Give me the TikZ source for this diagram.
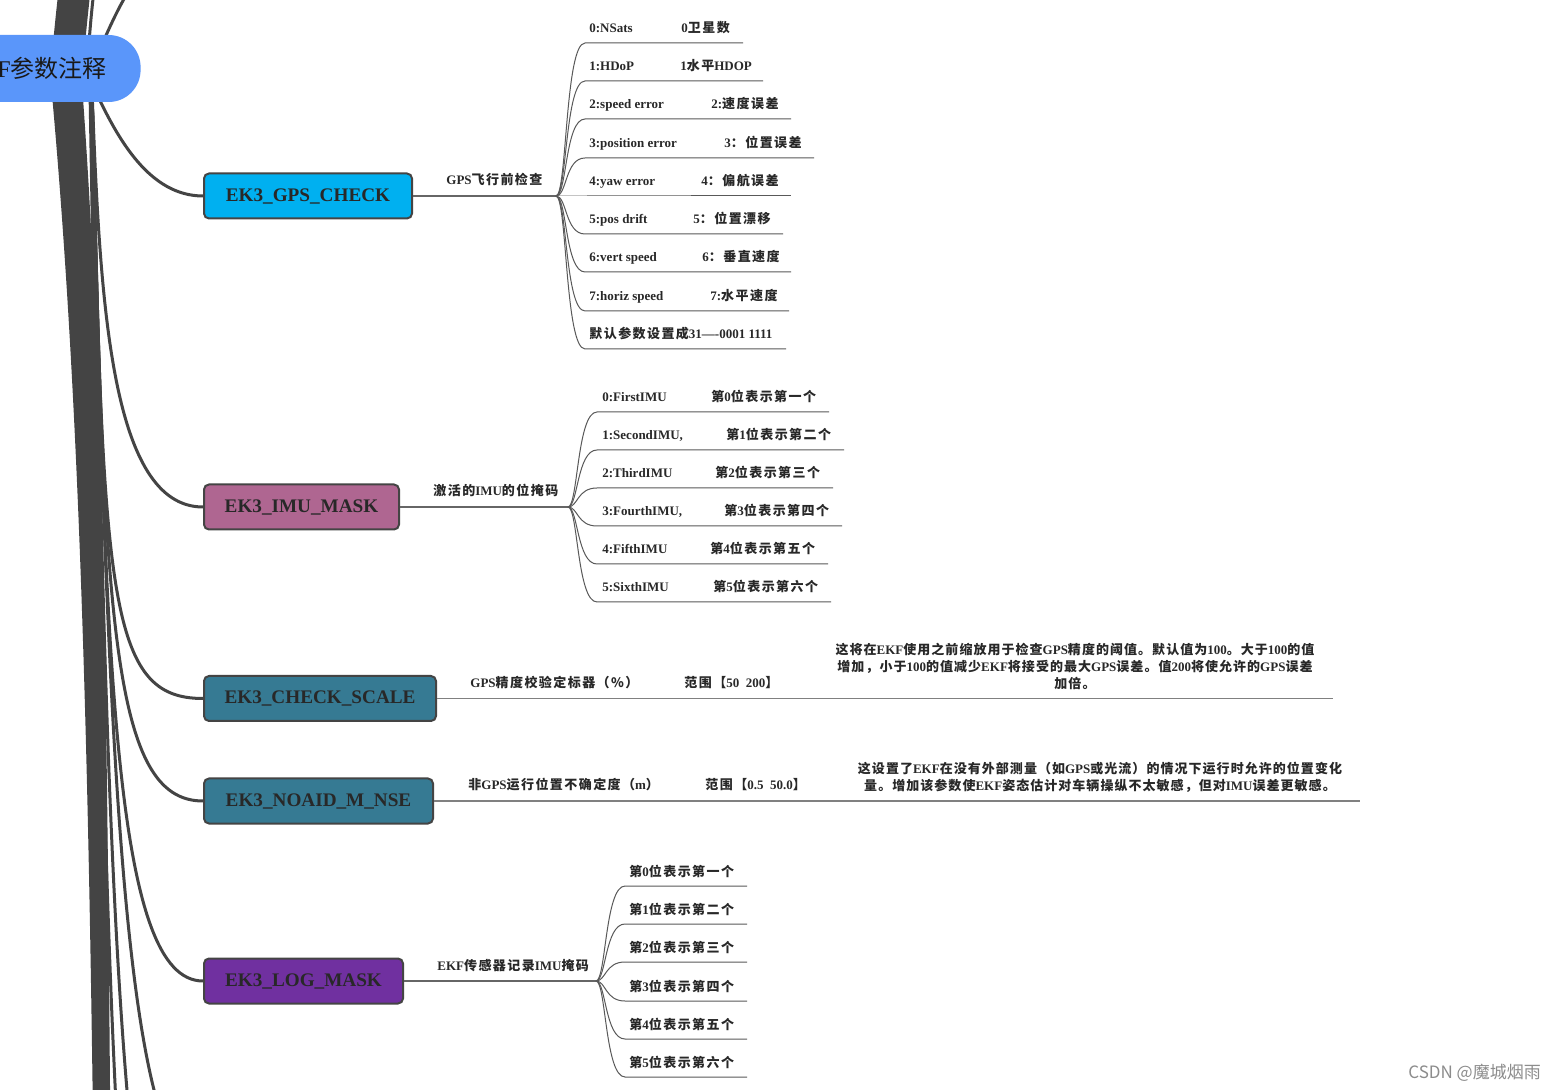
\documentclass[tikz,border=0pt]{standalone}
\usepackage{fontspec}
\setmainfont{Liberation Serif}
\newfontfamily\zhfont{Noto Sans CJK SC}[LetterSpace=11]
\newfontfamily\zdfont{Noto Sans CJK SC}[LetterSpace=8]
\newfontfamily\rootzh{Noto Sans CJK SC}
\newfontfamily\wmfont{Noto Sans CJK SC}
\newcommand\zh[1]{{\zhfont #1}}
\newcommand\zd[1]{{\zdfont #1}}
\usetikzlibrary{backgrounds}
\definecolor{rootc}{RGB}{90,150,250}
\definecolor{gpsc}{RGB}{0,176,240}
\definecolor{imuc}{RGB}{175,102,145}
\definecolor{scalec}{RGB}{54,122,147}
\definecolor{logc}{RGB}{112,48,160}
\definecolor{linec}{RGB}{68,68,68}
\definecolor{txtc}{RGB}{40,40,40}
\tikzset{
 mainbox/.style={draw=linec, line width=1pt, rounded corners=2.5pt, anchor=west, minimum height=22.5pt, inner sep=0pt, text=txtc, font=\bfseries\fontsize{9.6}{11}\selectfont},
 lbl/.style={anchor=base west, inner sep=0pt, text=txtc, font=\bfseries\fontsize{6.5}{8}\selectfont},
 desc/.style={align=center, inner sep=0pt, text=txtc, font=\bfseries\fontsize{6.5}{8.5}\selectfont},
 conn/.style={draw=linec, line width=1.5pt},
 bandl/.style={draw=linec, line width=2.4pt},
 lvtwo/.style={draw=black!60, line width=0.7pt},
 fanl/.style={draw=black!65, line width=0.5pt},
}
\begin{document}
\begin{tikzpicture}[x=0.5pt,y=-0.5pt]
\useasboundingbox (0,0) rectangle (1559,1090);
% root
\node[fill=rootc, rounded corners=16pt, minimum height=33.5pt, inner xsep=17pt, inner ysep=0pt, anchor=east, font=\fontsize{12}{14}\selectfont, text=black!90] (root) at (141,68.5) {EKF\rootzh 参数注释};
% main nodes
\node[mainbox, fill=gpsc, minimum width=104pt] (gps) at (203,196) {EK3\_GPS\_CHECK};
\node[mainbox, fill=imuc, minimum width=97.5pt] (imu) at (203,507) {EK3\_IMU\_MASK};
\node[mainbox, fill=scalec, minimum width=116pt] (scale) at (203,698.5) {EK3\_CHECK\_SCALE};
\node[mainbox, fill=scalec, minimum width=114.5pt] (noaid) at (203,801) {EK3\_NOAID\_M\_NSE};
\node[mainbox, fill=logc, minimum width=99.5pt] (logm) at (203,981) {EK3\_LOG\_MASK};

\begin{scope}[on background layer]
\fill[white] (0,0) rectangle (1559,1090);
% top bundle (to nodes above)
\foreach \i in {0,...,8}{
  \pgfmathsetmacro{\sx}{54+3.4*\i}
  \coordinate (tp\i) at (\sx+25,-150);
  \draw[bandl] (\sx,60) .. controls (\sx+5,0) and (\sx+15,-80) .. (tp\i);
}
\coordinate (tq1) at (100,-60);
\draw[conn] (88,60) .. controls (90,20) and (95,-20) .. (tq1);
\coordinate (tq2) at (203,-60);
\draw[conn] (95,60) .. controls (118,10) and (140,-55) .. (tq2);
% bottom bundle (to nodes below)
\foreach \i in {0,...,7}{
  \pgfmathsetmacro{\f}{\i/7}
  \coordinate (bp\i) at (97+12*\f,1250);
  \draw[bandl] (54+26*\f,90) .. controls (84+20*\f,420) and (92+13*\f,800) .. (bp\i);
}
\coordinate (bn1) at (203,1170);
\coordinate (bn2) at (203,1380);
\coordinate (bn3) at (203,1600);
\draw[conn] (92,90) .. controls (106,680) and (120,1170) .. (bn1);
\draw[conn] (92,90) .. controls (106,820) and (118,1380) .. (bn2);
\draw[conn] (90,90) .. controls (104,900) and (114,1600) .. (bn3);
% visible branches
\draw[conn] (95,90) .. controls (118,140) and (150,196) .. (gps.west);
\draw[conn] (92,90) .. controls (100,300) and (110,507) .. (imu.west);
\draw[conn] (92,90) .. controls (103,600) and (108,698.5) .. (scale.west);
\draw[conn] (92,90) .. controls (104,620) and (111,801) .. (noaid.west);
\draw[conn] (92,90) .. controls (105,680) and (115,981) .. (logm.west);
\end{scope}

% ---- GPS_CHECK
\coordinate (gpsF) at (556,196);
\draw[lvtwo] (gps.east) -- (gpsF);
\node[lbl] (gpsL) at (446,185) {GPS\zh{飞行前检查}};
\foreach \i/\y/\e/\a/\bx/\b in {
 0/43/743/{0:NSats}/681/{0\zh{卫星数}},
 1/81/763/{1:HDoP}/680/{1\zh{水平}HDOP},
 2/119/791/{2:speed error}/711/{2:\zh{速度误差}},
 3/158/814/{3:position error}/724/{3\zh{：位置误差}},
 4/196/791/{4:yaw error}/701/{4\zh{：偏航误差}},
 5/234/783/{5:pos drift}/693/{5\zh{：位置漂移}},
 6/272/791/{6:vert speed}/702/{6\zh{：垂直速度}},
 7/311/789/{7:horiz speed}/710/{7:\zh{水平速度}}}
{
 \coordinate (gs\i) at (585,\y);
 \coordinate (ge\i) at (\e,\y);
 \draw[fanl] (gpsF) .. controls (567,196) and (565,\y) .. (gs\i) -- (ge\i);
 \node[lbl] (ga\i) at (589,\y-10) {\a};
 \node[lbl] (gb\i) at (\bx,\y-10) {\b};
}
\coordinate (gs8) at (585,349);
\coordinate (ge8) at (786,349);
\draw[fanl] (gpsF) .. controls (567,196) and (565,349) .. (gs8) -- (ge8);
\node[lbl] (ga8) at (589,339) {\zh{默认参数设置成}31----0001 1111};

% ---- IMU_MASK
\coordinate (imuF) at (568,507);
\draw[lvtwo] (imu.east) -- (imuF);
\node[lbl] (imuL) at (433,496) {\zh{激活的}IMU\zh{的位掩码}};
\foreach \i/\y/\e/\a/\bx/\b in {
 0/412/829/{0:FirstIMU}/711/{\zh{第}0\zh{位表示第一个}},
 1/450/844/{1:SecondIMU,}/726/{\zh{第}1\zh{位表示第二个}},
 2/488/833/{2:ThirdIMU}/715/{\zh{第}2\zh{位表示第三个}},
 3/526/842/{3:FourthIMU,}/724/{\zh{第}3\zh{位表示第四个}},
 4/564/828/{4:FifthIMU}/710/{\zh{第}4\zh{位表示第五个}},
 5/602/831/{5:SixthIMU}/713/{\zh{第}5\zh{位表示第六个}}}
{
 \coordinate (is\i) at (597,\y);
 \coordinate (ie\i) at (\e,\y);
 \draw[fanl] (imuF) .. controls (578,507) and (577,\y) .. (is\i) -- (ie\i);
 \node[lbl] (ia\i) at (602,\y-10) {\a};
 \node[lbl] (ib\i) at (\bx,\y-10) {\b};
}

% ---- CHECK_SCALE
\coordinate (scE) at (1333,698.5);
\draw[draw=black!50, line width=0.9pt] (scale.east) -- (scE);
\node[lbl] (scL) at (470,688) {GPS\zh{精度校验定标器（\%）}};
\node[lbl] (scR) at (684,688) {\zh{范围【}50\ \ 200\zh{】}};
\node[desc] (scD) at (1075,666) {\zd{这将在}EKF\zd{使用之前缩放用于检查}GPS\zd{精度的阈值。默认值为}100\zd{。大于}100\zd{的值}\\ \zd{增加，小于}100\zd{的值减少}EKF\zd{将接受的最大}GPS\zd{误差。值}200\zd{将使允许的}GPS\zd{误差}\\ \zd{加倍。}};

% ---- NOAID_M_NSE
\coordinate (naE) at (1360,801);
\draw[draw=black!50, line width=0.9pt] (noaid.east) -- (naE);
\node[lbl] (naL) at (468,790) {\zh{非}GPS\zh{运行位置不确定度（}m\zh{）}};
\node[lbl] (naR) at (705,790) {\zh{范围【}0.5\ \ 50.0\zh{】}};
\node[desc] (naD) at (1100,777) {\zd{这设置了}EKF\zd{在没有外部测量（如}GPS\zd{或光流）的情况下运行时允许的位置变化}\\ \zd{量。增加该参数使}EKF\zd{姿态估计对车辆操纵不太敏感，但对}IMU\zd{误差更敏感。}};

% ---- LOG_MASK
\coordinate (lgF) at (596,981);
\draw[lvtwo] (logm.east) -- (lgF);
\node[lbl] (lgL) at (437,970) {EKF\zh{传感器记录}IMU\zh{掩码}};
\foreach \i/\y/\n/\w in {0/886/0/一,1/924/1/二,2/962/2/三,3/1001/3/四,4/1039/4/五,5/1077/5/六}
{
 \coordinate (ls\i) at (625,\y);
 \coordinate (le\i) at (747,\y);
 \draw[fanl] (lgF) .. controls (606,981) and (605,\y) .. (ls\i) -- (le\i);
 \node[lbl] (la\i) at (629,\y-10) {\zh{第}\n\zh{位表示第\w 个}};
}

% watermark
\node[anchor=base west, inner sep=0pt, text=black!45, font=\wmfont\fontsize{8.5}{10}\selectfont] (wm) at (1408,1078) {CSDN @魔城烟雨};
\end{tikzpicture}
\end{document}
